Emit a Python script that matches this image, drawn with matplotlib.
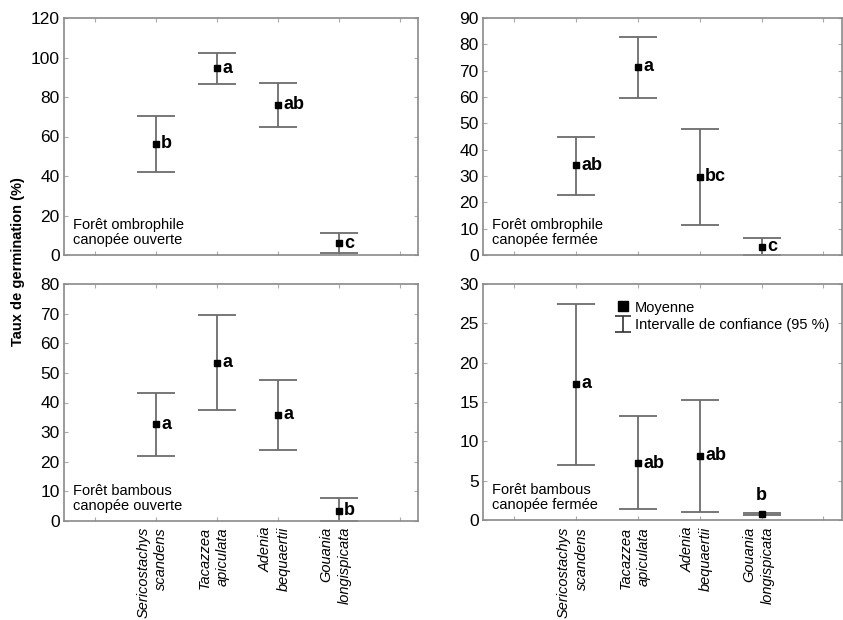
import matplotlib.pyplot as plt
import numpy as np
from matplotlib.lines import Line2D
from matplotlib.path import Path
from matplotlib.transforms import blended_transform_factory

species = ["Sericostachys\nscandens", "Tacazzea\napiculata", "Adenia\nbequaertii", "Gouania\nlongispicata"]
positions = [2, 3, 4, 5]

titles = ["Forêt ombrophile\ncanopée ouverte", "Forêt ombrophile\ncanopée fermée",
          "Forêt bambous\ncanopée ouverte", "Forêt bambous\ncanopée fermée"]

# moyenne, borne basse, borne haute (IC 95 %)
mean_oo = [56.3, 94.6, 76.1, 5.9]
low_oo = [42.1, 86.5, 64.9, 0.8]
high_oo = [70.5, 102.2, 86.9, 11.3]
letters_oo = ["b", "a", "ab", "c"]

mean_of = [34.0, 71.4, 29.7, 3.2]
low_of = [22.8, 59.7, 11.5, 0.0]
high_of = [44.9, 82.9, 47.9, 6.5]
letters_of = ["ab", "a", "bc", "c"]

mean_bo = [32.6, 53.4, 35.9, 3.5]
low_bo = [22.1, 37.6, 23.9, 0.0]
high_bo = [43.1, 69.6, 47.6, 7.6]
letters_bo = ["a", "a", "a", "b"]

mean_bf = [17.3, 7.2, 8.15, 0.76]
low_bf = [7.0, 1.36, 1.06, 0.68]
high_bf = [27.5, 13.2, 15.3, 0.84]
letters_bf = ["a", "ab", "ab", "b"]

y_max = [120, 90, 80, 30]
y_step = [20, 10, 10, 5]

means = [mean_oo, mean_of, mean_bo, mean_bf]
lows = [low_oo, low_of, low_bo, low_bf]
highs = [high_oo, high_of, high_bo, high_bf]
letters = [letters_oo, letters_of, letters_bo, letters_bf]

plt.rcParams['font.family'] = ['Liberation Sans', 'DejaVu Sans']

grey = '#6c6c6c'
fig = plt.figure(figsize=(8.43, 6.2), dpi=100)
W, H = 843, 620
boxes = [(64, 18, 354, 237), (483, 18, 359, 237), (64, 284, 354, 237), (483, 284, 359, 236)]

axes = []
for i, (l, t, w, h) in enumerate(boxes):
    ax = fig.add_axes([l / W, 1 - (t + h) / H, w / W, h / H])
    axes.append(ax)
    m = np.array(means[i])
    err = [m - np.array(lows[i]), np.array(highs[i]) - m]
    ax.errorbar(positions, m, yerr=err, fmt='none', ecolor=grey, elinewidth=1.3,
                capsize=13.5, capthick=1.3, zorder=2)
    ax.plot(positions, m, 's', color='black', ms=4.5, zorder=3)
    for j in range(4):
        if i == 3 and j == 3:
            ax.annotate(letters[i][j], (positions[j], m[j]), xytext=(0, 7), textcoords='offset points',
                        ha='center', va='bottom', fontsize=13, fontweight='bold')
        else:
            ax.annotate(letters[i][j], (positions[j], m[j]), xytext=(4, 0), textcoords='offset points',
                        ha='left', va='center', fontsize=13, fontweight='bold')
    ax.text(0.025, 0.035, titles[i], transform=ax.transAxes, fontsize=10.5, va='bottom', ha='left',
            linespacing=1.05)
    ax.set_xlim(0.5, 6.3)
    ax.set_ylim(0, y_max[i])
    ax.set_xticks([1, 2, 3, 4, 5, 6])
    ax.set_xticklabels([])
    ax.set_yticks(np.arange(0, y_max[i] + 1, y_step[i]))
    ax.tick_params(direction='in', length=3, color='#aaaaaa', top=True, right=True, pad=3,
                   labelsize=12.5)
    for s in ax.spines.values():
        s.set_color('#8a8a8a')
        s.set_linewidth(1.2)

# noms d'especes sous les panneaux du bas
for ax in axes[2:]:
    trans = blended_transform_factory(ax.transData, fig.transFigure)
    for x, name in zip(positions, species):
        ax.text(x - 0.05, 1 - 527 / H, name, transform=trans, rotation=90, ha='center', va='top',
                multialignment='right', fontsize=10.5, style='italic', linespacing=1.35,
                clip_on=False)

# legende
ibeam = Path([(-0.5, -0.45), (0.5, -0.45), (0, -0.45), (0, 0.45), (-0.5, 0.45), (0.5, 0.45)],
             [Path.MOVETO, Path.LINETO, Path.MOVETO, Path.LINETO, Path.MOVETO, Path.LINETO])
h1 = Line2D([], [], ls='none', marker='s', color='black', ms=7)
h2 = Line2D([], [], ls='none', marker=ibeam, ms=12, markerfacecolor='none',
            markeredgecolor='#333333', mew=1.2)
axes[3].legend([h1, h2], ["Moyenne", "Intervalle de confiance (95 %)"], loc='upper left',
               bbox_to_anchor=(0.37, 0.93), frameon=False, fontsize=10.5, handlelength=1.0,
               handletextpad=0.3, borderpad=0, labelspacing=0.25, borderaxespad=0)

fig.text(18 / W, 1 - 262 / H, "Taux de germination (%)", rotation=90, ha='center', va='center',
         fontsize=10.5, fontweight='bold')

fig.savefig('out.png', dpi=100)
